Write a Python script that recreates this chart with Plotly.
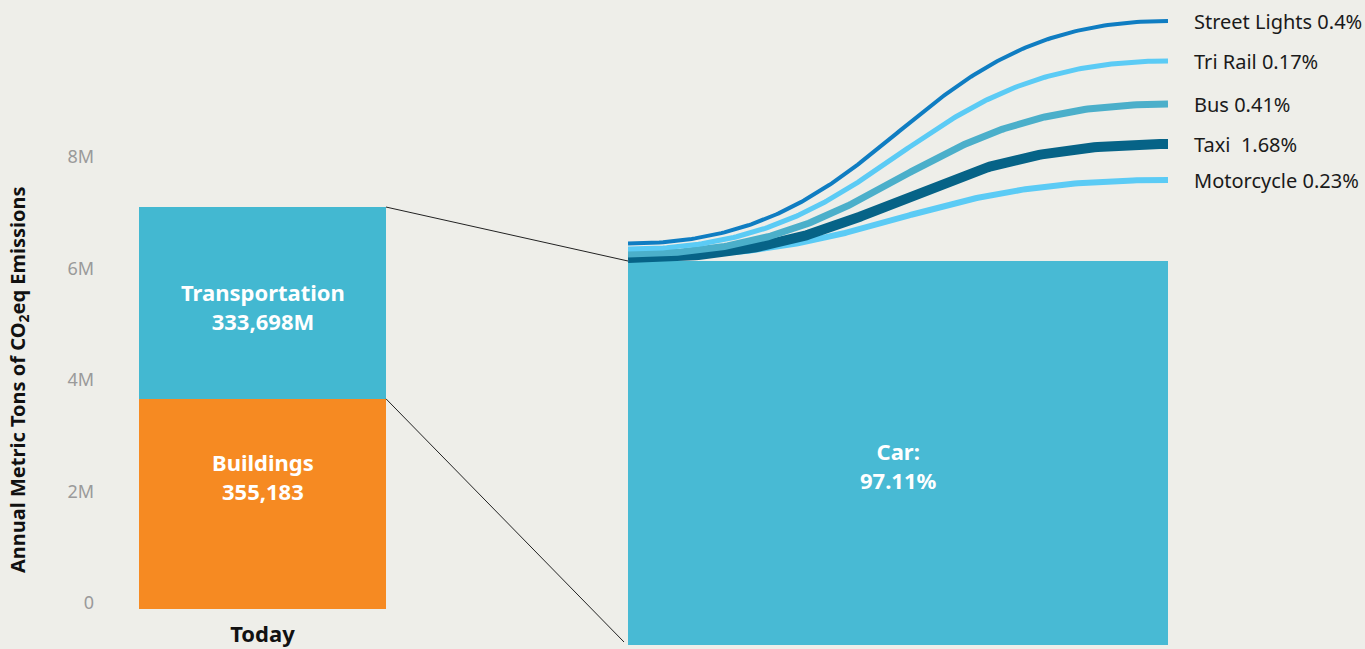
import numpy as np
import plotly.graph_objects as go

# ---------------- data ----------------
categories = ["Today"]
sectors = ["Buildings", "Transportation"]
sector_values_m = [3.77, 3.44]          # million t CO2eq
sector_labels = ["Buildings<br>355,183", "Transportation<br>333,698M"]

car_share = 97.11
modes = ["Street Lights", "Tri Rail", "Bus", "Taxi", "Motorcycle"]
mode_shares = [0.4, 0.17, 0.41, 1.68, 0.23]
mode_label_text = ["Street Lights 0.4%", "Tri Rail 0.17%", "Bus 0.41%", "Taxi  1.68%", "Motorcycle 0.23%"]

y_tick_vals = [0, 2, 4, 6, 8]
y_tick_text = ["0", "2M", "4M", "6M", "8M"]

# ---------------- style / layout ----------------
W, H = 1365, 649
BG = "#EEEEE9"
FONT = "Noto Sans"
C_BUILD = "#F68A22"
C_TRANS = "#43B8D1"
C_CAR = "#48BAD4"
mode_colors = ["#0F7DC2", "#5BCBF5", "#4BAFCA", "#066387", "#5BCBF5"]
mode_widths = [4, 5, 7, 10, 6]

# left panel geometry (pixels)
BAR_L, BAR_R = 139, 386
ZERO_PX = 609
PX_PER_M = 55.75
# right panel geometry
CAR_L, CAR_R = 628, 1168
CAR_BOT, CAR_TOP = 645, 261
# curve start/end rows (pixels)
start_px = [243.5, 249, 254, 258, 257]
end_px = [21, 61, 104, 144, 180]

y1_max = ZERO_PX / PX_PER_M
k2 = (CAR_BOT - CAR_TOP) / car_share
y2_min = -(H - CAR_BOT) / k2
y2_max = y2_min + H / k2


def px_to_y2(p):
    return (CAR_BOT - p) / k2


def y1_to_px(v):
    return ZERO_PX - v * PX_PER_M


fig = go.Figure()

# stacked bar
for name, val, col in zip(sectors, sector_values_m, [C_BUILD, C_TRANS]):
    fig.add_trace(go.Bar(x=categories, y=[val], name=name, marker=dict(color=col, line=dict(width=0)),
                         width=1, xaxis="x", yaxis="y", hoverinfo="skip"))

# car bar
fig.add_trace(go.Bar(x=[0.5], y=[car_share], width=1, marker=dict(color=C_CAR, line=dict(width=0)),
                     xaxis="x2", yaxis="y2", hoverinfo="skip"))

# curves (cubic Bezier, horizontal tangents)
t = np.linspace(0, 1, 200)
bx = 1.5 * t - 1.5 * t ** 2 + t ** 3
by = 3 * t ** 2 - 2 * t ** 3
order = [4, 3, 2, 1, 0]
for i in order:
    y0 = px_to_y2(start_px[i])
    y1 = px_to_y2(end_px[i])
    fig.add_trace(go.Scatter(x=bx, y=y0 + (y1 - y0) * by, mode="lines",
                             line=dict(color=mode_colors[i], width=mode_widths[i]),
                             xaxis="x2", yaxis="y2", hoverinfo="skip"))

annotations = []
# bar labels
for lab, ypx in zip(sector_labels, [476, 306]):
    annotations.append(dict(x=categories[0], y=(ZERO_PX - ypx) / PX_PER_M, xref="x", yref="y",
                            text="<b>" + lab + "</b>", showarrow=False, xanchor="center", yanchor="middle",
                            font=dict(family=FONT, size=22, color="white")))
annotations.append(dict(x=0.5, y=px_to_y2(465), xref="x2", yref="y2", text="<b>Car:<br>97.11%</b>",
                        showarrow=False, xanchor="center", yanchor="middle",
                        font=dict(family=FONT, size=22, color="white")))
# mode labels
for lab, ep in zip(mode_label_text, end_px):
    annotations.append(dict(x=1, y=px_to_y2(ep), xref="x2", yref="y2", text=lab, showarrow=False,
                            xanchor="left", yanchor="middle", xshift=24,
                            font=dict(family=FONT, size=20, color="#1a1a1a")))
# y axis title
annotations.append(dict(x=18 / W, y=1 - 380 / H, xref="paper", yref="paper", textangle=-90,
                        xanchor="center", yanchor="middle",
                        text="<b>Annual Metric Tons of CO<sub>2</sub>eq Emissions</b>", showarrow=False,
                        font=dict(family=FONT, size=20, color="#111111")))

total = sum(sector_values_m)
shapes = [
    dict(type="line", xref="paper", yref="paper",
         x0=BAR_R / W, y0=1 - y1_to_px(total) / H, x1=CAR_L / W, y1=1 - CAR_TOP / H,
         line=dict(color="#222222", width=1)),
    dict(type="line", xref="paper", yref="paper",
         x0=BAR_R / W, y0=1 - y1_to_px(sector_values_m[0]) / H, x1=(CAR_L - 4) / W, y1=1 - (CAR_BOT - 3) / H,
         line=dict(color="#222222", width=1)),
]

fig.update_layout(
    width=W, height=H, margin=dict(l=0, r=0, t=0, b=0, autoexpand=False),
    paper_bgcolor=BG, plot_bgcolor=BG, barmode="stack", showlegend=False,
    font=dict(family=FONT),
    xaxis=dict(domain=[BAR_L / W, BAR_R / W], range=[-0.5, 0.5], type="category",
               showgrid=False, zeroline=False, showline=False, ticks="", automargin=False,
               tickfont=dict(family=FONT, size=22, color="#111111", weight="bold"),
               ticklabelstandoff=10, anchor="y"),
    yaxis=dict(domain=[(H - ZERO_PX) / H, 1], range=[0, y1_max], tickvals=y_tick_vals,
               ticktext=y_tick_text, showgrid=False, zeroline=False, showline=False, ticks="",
               automargin=False,
               tickfont=dict(family=FONT, size=18, color="#9a9a9a"), ticklabelstandoff=44,
               ticklabelshift=-6, anchor="x"),
    xaxis2=dict(domain=[CAR_L / W, CAR_R / W], range=[0, 1], visible=False, anchor="y2", automargin=False),
    yaxis2=dict(domain=[0, 1], range=[y2_min, y2_max], visible=False, anchor="x2", automargin=False),
    annotations=annotations, shapes=shapes,
)

fig.write_html("out.html")
